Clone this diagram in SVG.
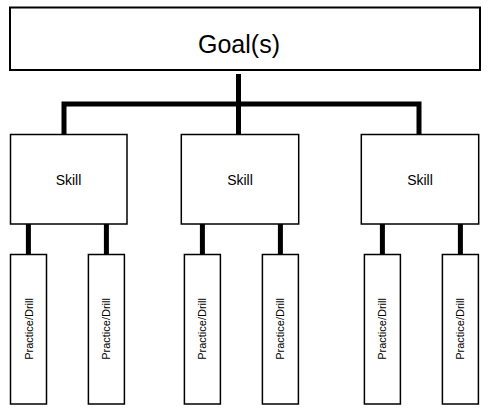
<svg xmlns="http://www.w3.org/2000/svg" width="490" height="415" viewBox="0 0 490 415">
<style>
.box{fill:#fff;stroke:#000;stroke-width:1.5}
.conn{stroke:#000;stroke-width:5;fill:none}
text{font-family:"Liberation Sans",Arial,sans-serif;fill:#000;text-anchor:middle;dominant-baseline:central}
.g{font-size:25px}
.s{font-size:14px}
.d{font-size:11px}
</style>
<rect width="490" height="415" fill="#fff"/>
<g id="connectors">
<line class="conn" x1="238.5" y1="74" x2="238.5" y2="135"/>
<polyline class="conn" points="64,135 64,104 419,104 419,135"/>
<line class="conn" x1="28.4" y1="224" x2="28.4" y2="255"/>
<line class="conn" x1="106.4" y1="224" x2="106.4" y2="255"/>
<line class="conn" x1="202.4" y1="224" x2="202.4" y2="255"/>
<line class="conn" x1="280.4" y1="224" x2="280.4" y2="255"/>
<line class="conn" x1="382.4" y1="224" x2="382.4" y2="255"/>
<line class="conn" x1="460.4" y1="224" x2="460.4" y2="255"/>
</g>
<g id="goal">
<rect class="box" x="10" y="7.5" width="470" height="62.5" style="stroke-width:2"/>
<text class="g" x="239" y="44">Goal(s)</text>
</g>
<g id="skill1"><rect class="box" x="10.5" y="134.5" width="116.5" height="89.5"/><text class="s" x="68.5" y="179.5">Skill</text></g>
<g id="skill2"><rect class="box" x="181.3" y="134.5" width="117.4" height="89.5"/><text class="s" x="240" y="179.5">Skill</text></g>
<g id="skill3"><rect class="box" x="361.3" y="134.5" width="117.4" height="89.5"/><text class="s" x="420" y="179.5">Skill</text></g>
<g id="drill1"><rect class="box" x="10.5" y="254.5" width="36" height="149.5"/><text class="d" transform="translate(28.5,329) rotate(-90)">Practice/Drill</text></g>
<g id="drill2"><rect class="box" x="88.4" y="254.5" width="36" height="149.5"/><text class="d" transform="translate(106.4,329) rotate(-90)">Practice/Drill</text></g>
<g id="drill3"><rect class="box" x="184.4" y="254.5" width="36" height="149.5"/><text class="d" transform="translate(202.4,329) rotate(-90)">Practice/Drill</text></g>
<g id="drill4"><rect class="box" x="262.4" y="254.5" width="36" height="149.5"/><text class="d" transform="translate(280.4,329) rotate(-90)">Practice/Drill</text></g>
<g id="drill5"><rect class="box" x="364.4" y="254.5" width="36" height="149.5"/><text class="d" transform="translate(382.4,329) rotate(-90)">Practice/Drill</text></g>
<g id="drill6"><rect class="box" x="442.4" y="254.5" width="36" height="149.5"/><text class="d" transform="translate(460.4,329) rotate(-90)">Practice/Drill</text></g>
</svg>
